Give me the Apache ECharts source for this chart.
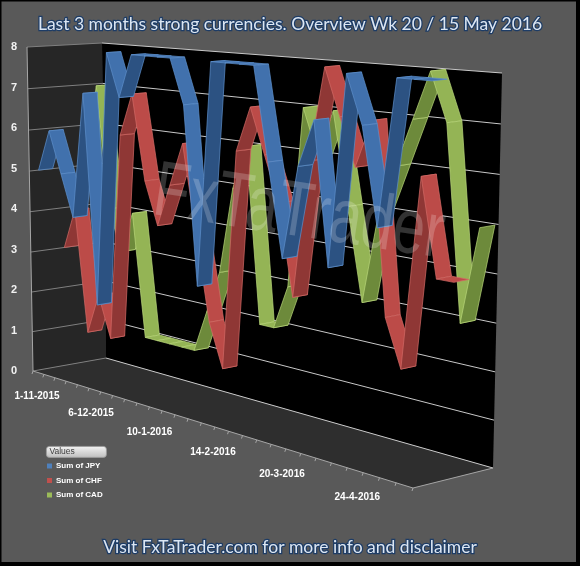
<!DOCTYPE html>
<html>
<head>
<meta charset="utf-8">
<script src="https://cdn.jsdelivr.net/npm/echarts@6/dist/echarts.min.js"></script>
<style>
html,body{margin:0;padding:0;background:#000;}
#chart{width:580px;height:566px;}
</style>
</head>
<body>
<div id="chart"></div>
<script>
// ---------- data ----------
const dates = ['1-11-2015','8-11-2015','15-11-2015','22-11-2015','29-11-2015','6-12-2015','13-12-2015',
  '20-12-2015','27-12-2015','3-1-2016','10-1-2016','17-1-2016','24-1-2016','31-1-2016','7-2-2016',
  '14-2-2016','21-2-2016','28-2-2016','6-3-2016','13-3-2016','20-3-2016','27-3-2016','3-4-2016',
  '10-4-2016','17-4-2016','24-4-2016','1-5-2016','8-5-2016','15-5-2016'];
const jpy = [5,6,5,4,7,2,8,7,8,8,8,8,7,3,8,8,8,8,6,4,6,7,4,8,7,5,8,8,8];
const chf = [3,4,1,2,1,6,7,5,4,5,6,4,2,1,6,7,6,5,3,6,8,7,6,7,3,2,6,4,4];
const cad = [5,7,4,3,4,1,1,1,1,1,2,3,5,6,2,2,3,7,6,7,5,3,5,6,7,8,7,3,5];
const yTicks = [0,1,2,3,4,5,6,7,8];
const labelStep = 5;
const seriesNames = ['Sum of JPY','Sum of CHF','Sum of CAD'];

// ---------- layout (3D box projection) ----------
const N = dates.length;
const Y_MAX = 8;
const TH = 0.19;
function sq2quad(p0, p1, p2, p3) {
  const [x0,y0]=p0,[x1,y1]=p1,[x2,y2]=p2,[x3,y3]=p3;
  const dx1=x1-x2, dx2=x3-x2, dx3=x0-x1+x2-x3;
  const dy1=y1-y2, dy2=y3-y2, dy3=y0-y1+y2-y3;
  const den = dx1*dy2 - dx2*dy1;
  const g = (dx3*dy2 - dx2*dy3)/den;
  const h = (dx1*dy3 - dx3*dy1)/den;
  const a = x1-x0+g*x1, b = x3-x0+h*x3, c = x0;
  const d = y1-y0+g*y1, e = y3-y0+h*y3, f = y0;
  return (u,w) => { const z = g*u+h*w+1; return [(a*u+b*w+c)/z, (d*u+e*w+f)/z]; };
}
const FRONT = sq2quad([33,371],[413,488],[422,82],[27,47]);
const BACK  = sq2quad([106,358],[493,468],[502,73],[102,43]);
function P(u,w,d){ const a=FRONT(u,w), b=BACK(u,w); return [a[0]+(b[0]-a[0])*d, a[1]+(b[1]-a[1])*d]; }
function norm(api, i, v) {
  const o = api.coord([0, 0]), e = api.coord([N - 1, Y_MAX]);
  const p = api.coord([i, v]);
  return [(p[0]-o[0])/(e[0]-o[0]), (o[1]-p[1])/(o[1]-e[1])];
}

function lineSeries(name, values, color, light, dark, edge, dc) {
  return {
    type: 'custom', name, coordinateSystem: 'cartesian2d', clip: false, silent: true,
    itemStyle: { color },
    encode: { x: 0, y: [1, 2] },
    data: values.slice(0, -1).map((v, i) => [i, v, values[i + 1]]),
    renderItem(params, api) {
      const i = api.value(0), v0 = api.value(1), v1 = api.value(2);
      const a = norm(api, i, v0), b = norm(api, i + 1, v1);
      const d0 = dc - TH/2, d1 = dc + TH/2;
      const pts = [P(a[0],a[1],d0), P(b[0],b[1],d0), P(b[0],b[1],d1), P(a[0],a[1],d1)];
      return { type: 'polygon', shape: { points: pts },
        style: { fill: v1 > v0 ? dark : light, stroke: edge, lineWidth: 0.7 } };
    }
  };
}

const wallSeries = {
  type: 'custom', name: 'walls', coordinateSystem: 'cartesian2d', clip: false, silent: true, z: 1,
  data: [[0, 0]],
  renderItem(params, api) {
    const ch = [];
    ch.push({ type:'polygon', shape:{points:[P(0,0,0),P(0,1,0),P(0,1,1),P(0,0,1)]}, style:{fill:'#262626'} });
    ch.push({ type:'polygon', shape:{points:[P(0,0,1),P(1,0,1),P(1,1,1),P(0,1,1)]}, style:{fill:'#000'} });
    ch.push({ type:'polygon', shape:{points:[P(0,0,0),P(1,0,0),P(1,0,1),P(0,0,1)]}, style:{fill:'#2e2e2e'} });
    yTicks.forEach(k => {
      const w = norm(api, 0, k)[1];
      const s0 = P(0,w,0), s1 = P(0,w,1), b1 = P(1,w,1);
      ch.push({ type:'line', shape:{x1:s0[0],y1:s0[1],x2:s1[0],y2:s1[1]}, style:{stroke:'#7f7f7f', lineWidth:1} });
      ch.push({ type:'line', shape:{x1:s1[0],y1:s1[1],x2:b1[0],y2:b1[1]}, style:{stroke:'#c8c8c8', lineWidth:1} });
    });
    const e = [[P(0,0,0),P(1,0,0)],[P(1,0,0),P(1,0,1)],[P(0,0,0),P(0,1,0)]];
    e.forEach(([p,q]) => ch.push({ type:'line', shape:{x1:p[0],y1:p[1],x2:q[0],y2:q[1]}, style:{stroke:'#a6a6a6', lineWidth:1} }));
    return { type:'group', children: ch };
  }
};

const labelSeries = {
  type: 'custom', name: 'dates', coordinateSystem: 'cartesian2d', clip: false, silent: true, z: 3,
  data: dates.map((d, i) => [i, 0]),
  renderItem(params, api) {
    const i = api.value(0);
    const u = norm(api, i, 0)[0];
    const p = P(u, 0, 0);
    const ch = [{ type:'line', shape:{x1:p[0],y1:p[1],x2:p[0]-1,y2:p[1]+3}, style:{stroke:'#a6a6a6', lineWidth:1} }];
    if (i % labelStep === 0) {
      ch.push({ type:'text', style:{ text: dates[i], x: p[0] + 4 - 11*u, y: p[1] + 25,
        align:'center', verticalAlign:'middle', fill:'#ffffff',
        font:'bold 10px "Liberation Sans", Arial, sans-serif' } });
    }
    return { type:'group', children: ch };
  }
};

const titleStyle = { color:'#dce6f2', fontSize:17.5, fontFamily:'Lato, "Open Sans", sans-serif',
  fontWeight:'normal', textBorderColor:'#1d3c66', textBorderWidth:2.5 };

const chart = echarts.init(document.getElementById('chart'));
chart.setOption({
  animation: false,
  backgroundColor: '#595959',
  title: [
    { text: 'Last 3 months strong currencies. Overview Wk 20 / 15 May 2016', left: 'center', top: 10, textStyle: titleStyle },
    { text: 'Visit FxTaTrader.com for more info and disclaimer', left: 'center', top: 533, textStyle: titleStyle }
  ],
  legend: {
    data: seriesNames, orient: 'vertical', left: 47, top: 462, padding: 0,
    itemWidth: 5, itemHeight: 5, itemGap: 6.5, icon: 'rect',
    textStyle: { color:'#ffffff', fontSize: 8, fontWeight:'bold', fontFamily:'"Liberation Sans", Arial, sans-serif', padding:[0,0,0,-1] }
  },
  grid: { left: 27, top: 47, width: 386, height: 324 },
  xAxis: { type:'category', data: dates, boundaryGap:false, show:false },
  yAxis: { type:'value', min:0, max:Y_MAX, interval:1,
    axisLine:{show:false}, axisTick:{show:false}, splitLine:{show:false},
    axisLabel:{ color:'#f2f2f2', fontSize:11, fontWeight:'bold', margin:10, fontFamily:'"Liberation Sans", Arial, sans-serif' } },
  graphic: [
    { type:'group', left: 46, top: 446, children: [
      { type:'rect', shape:{x:0,y:0,width:60,height:11,r:3},
        style:{ fill: new echarts.graphic.LinearGradient(0,0,0,1,[{offset:0,color:'#f4f4f4'},{offset:1,color:'#bdbdbd'}]), stroke:'#9a9a9a', lineWidth:0.8 } },
      { type:'text', x:3, y:5.5, style:{ text:'Values', fill:'#404040', font:'8.5px "Liberation Sans", Arial, sans-serif', verticalAlign:'middle' } }
    ]},
    { type:'text', x:160, y:154, rotation:-0.15, scaleX:0.74, z:100, silent:true,
      style:{ text:'FxTaTrader', fill:'rgba(255,255,255,0.2)', font:'78px "Liberation Sans", Arial, sans-serif' } },
    { type:'rect', z:101, silent:true, shape:{x:0,y:0,width:580,height:566}, style:{fill:'none', stroke:'#000', lineWidth:3} },
    { type:'rect', z:101, silent:true, shape:{x:576,y:0,width:4,height:566}, style:{fill:'#000'} },
    { type:'rect', z:101, silent:true, shape:{x:0,y:562,width:580,height:4}, style:{fill:'#000'} }
  ],
  series: [
    wallSeries,
    lineSeries('Sum of CAD', cad, '#9bbb59', '#94b455', '#6d8a3b', '#b9d77a', 0.86),
    lineSeries('Sum of CHF', chf, '#c0504d', '#bc4b48', '#8f3735', '#d26a66', 0.55),
    lineSeries('Sum of JPY', jpy, '#4f81bd', '#4171ad', '#2c5282', '#5d8fcc', 0.22),
    labelSeries
  ]
});
</script>
</body>
</html>
